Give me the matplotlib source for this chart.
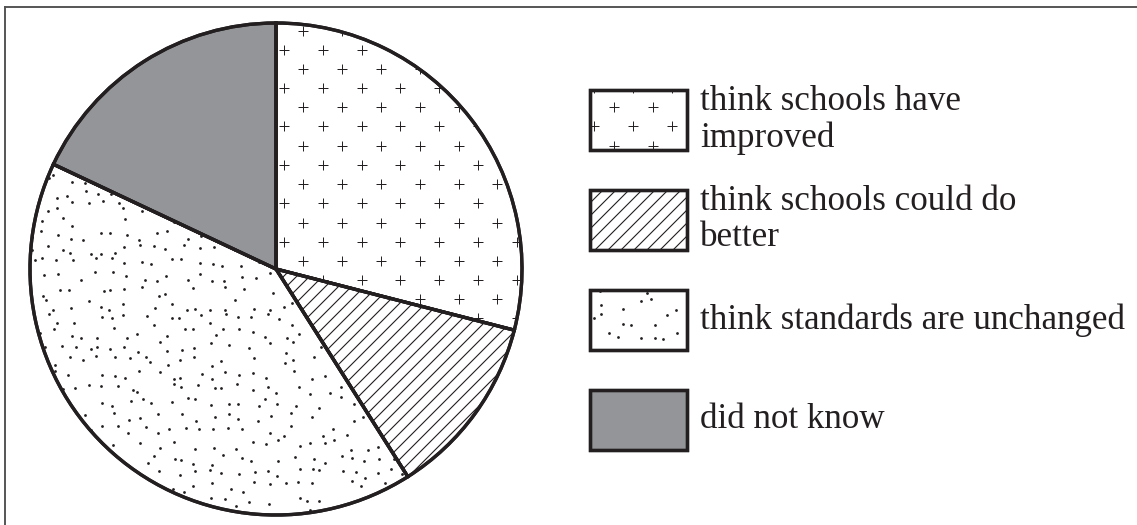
import numpy as np
import matplotlib
matplotlib.use("Agg")
import matplotlib.pyplot as plt
from matplotlib.patches import Rectangle, Wedge
from matplotlib.lines import Line2D
from matplotlib.collections import LineCollection

# ---- data ----
categories = ["think schools have\nimproved",
              "think schools could do\nbetter",
              "think standards are unchanged",
              "did not know"]
values = [29, 12, 41, 18]

W, H = 1137, 525
EDGE = "#231f20"
GRAY = "#939598"

fig = plt.figure(figsize=(W / 100, H / 100), dpi=100)
ax = fig.add_axes([0, 0, 1, 1])

cx, cy, R = 276, H - 269, 246
wedges, _ = ax.pie(values, startangle=90, counterclock=False,
                   center=(cx, cy), radius=R,
                   colors=["white", "white", "white", GRAY],
                   wedgeprops=dict(edgecolor=EDGE, linewidth=2.4))
ax.set_xlim(0, W)
ax.set_ylim(0, H)
ax.set_aspect("auto")
ax.axis("off")


def plus_texture(clip, x0, y0, x1, y1, zorder):
    xs, ys = [], []
    dx, dy = 38.8, 38.4
    for (ox, oy) in [(284.0, H - 280.0), (303.4, H - 261.0)]:
        i0 = int(np.floor((x0 - ox) / dx)) - 1
        i1 = int(np.ceil((x1 - ox) / dx)) + 1
        j0 = int(np.floor((y0 - oy) / dy)) - 1
        j1 = int(np.ceil((y1 - oy) / dy)) + 1
        for i in range(i0, i1 + 1):
            for j in range(j0, j1 + 1):
                xs.append(ox + i * dx)
                ys.append(oy + j * dy)
    sc = ax.scatter(xs, ys, marker="+", s=45, linewidths=0.7, c=EDGE, zorder=zorder)
    sc.set_clip_path(clip)


def hatch_texture(clip, x0, y0, x1, y1, zorder, step=13.0):
    segs = []
    c = x0 - (y1 - y0) - step
    while c < x1 + step:
        segs.append([(c, y0), (c + (y1 - y0), y1)])
        c += step
    lc = LineCollection(segs, colors=EDGE, linewidths=0.8, zorder=zorder)
    ax.add_collection(lc)
    lc.set_clip_path(clip)


def fract(v):
    return v - np.floor(v)


def dot_texture(clip, x0, y0, x1, y1, zorder, step=14.0, seed=0.0):
    gx = np.arange(x0, x1 + step, step)
    gy = np.arange(y0, y1 + step, step)
    X, Y = np.meshgrid(gx, gy)
    hx = fract(np.sin(X * 12.9898 + Y * 78.233 + seed) * 43758.5453)
    hy = fract(np.sin(X * 39.3468 + Y * 11.135 + seed) * 24634.6345)
    keep = fract(np.sin(X * 4.898 + Y * 7.23 + seed) * 23421.631) < 0.9
    px = (X + (hx - 0.5) * step * 0.8)[keep]
    py = (Y + (hy - 0.5) * step * 0.8)[keep]
    sc = ax.scatter(px, py, s=4, c=EDGE, linewidths=0, zorder=zorder)
    sc.set_clip_path(clip)


plus_texture(wedges[0], cx - R, cy - R, cx + R, cy + R, 3)
hatch_texture(wedges[1], cx - R, cy - R, cx + R, cy + R, 3)
dot_texture(wedges[2], cx - R, cy - R, cx + R, cy + R, 3)
for w in wedges:
    w.set_zorder(2)
    ax.add_patch(Wedge(w.center, w.r, w.theta1, w.theta2, facecolor="none",
                       edgecolor=EDGE, linewidth=2.4, zorder=4))

# ---- legend ----
bx, bw, bh = 590, 97, 60
tops = [90, 190, 290, 390]
for k, (lab, top) in enumerate(zip(categories, tops)):
    y0 = H - top - bh
    rect = Rectangle((bx, y0), bw, bh, facecolor=GRAY if k == 3 else "white",
                     edgecolor=EDGE, linewidth=2.4, zorder=2)
    ax.add_patch(rect)
    if k == 0:
        plus_texture(rect, bx, y0, bx + bw, y0 + bh, 3)
    if k == 1:
        hatch_texture(rect, bx, y0, bx + bw, y0 + bh, 3)
    if k == 2:
        dot_texture(rect, bx, y0, bx + bw, y0 + bh, 3, step=15.0, seed=3.0)
    ax.add_patch(Rectangle((bx, y0), bw, bh, facecolor="none",
                           edgecolor=EDGE, linewidth=2.4, zorder=4))
    ax.text(bx + bw + 13, y0 + bh / 2, lab, ha="left", va="center",
            fontsize=25.2, family="Liberation Serif", color=EDGE,
            linespacing=1.12)

# outer frame (top and left)
ax.add_line(Line2D([5, 5], [0, H - 7], color="#555555", linewidth=1.4))
ax.add_line(Line2D([5, W], [H - 7, H - 7], color="#555555", linewidth=1.4))

fig.savefig("out.png", dpi=100)
